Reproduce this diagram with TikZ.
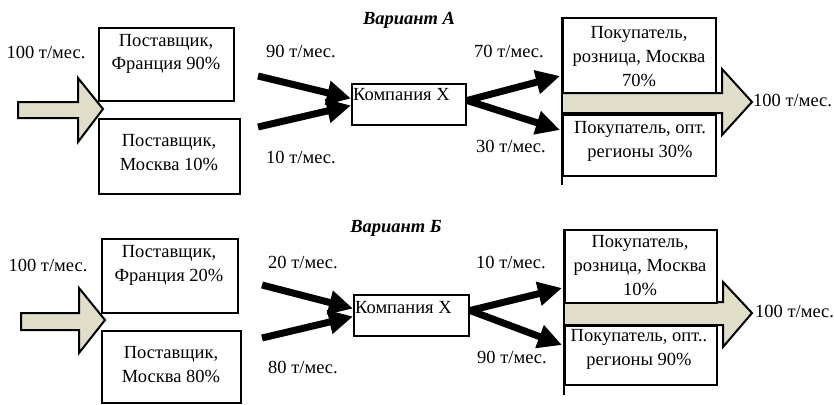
\documentclass[tikz,border=0pt]{standalone}
\usepackage{fontspec}
\setmainfont{Liberation Serif}
\usetikzlibrary{arrows.meta}
\definecolor{arrfill}{RGB}{224,222,200}
\begin{document}
\begin{tikzpicture}[x=1pt,y=-1pt,
  box/.style={draw=black, line width=2pt, fill=white, inner sep=0pt, anchor=north west},
  txt/.style={font=\fontsize{18.5}{24}\selectfont, align=center, inner sep=0pt, anchor=base},
  ttl/.style={font=\fontsize{18.5}{20}\selectfont\bfseries\itshape, inner sep=0pt, anchor=base},
  flow/.style={line width=7pt, -{Triangle[length=24pt,width=23pt]}},
  fat/.style={draw=black, line width=2pt, fill=arrfill, line join=miter}]
\useasboundingbox (0,0) rectangle (834,404);
\fill[white] (0,0) rectangle (834,404);

% ===== Variant A =====
\node[ttl] (tA) at (409,25) {Вариант А};
\filldraw[fat] (18,102) -- (78,102) -- (78,78) -- (103,109) -- (78,142) -- (78,118) -- (18,118) -- cycle;
\node[box, minimum width=135pt, minimum height=73pt] (s1A) at (98,27) {};
\node[box, minimum width=141pt, minimum height=75pt] (s2A) at (98,118) {};
\node[txt] (s1At) at (166,70) {Поставщик,\\Франция 90\%};
\node[txt] (s2At) at (169,170) {Поставщик,\\Москва 10\%};
\node[txt] (inA) at (46,59) {100 т/мес.};

\node[box, minimum width=114pt, minimum height=41pt] (kA) at (351,83) {};
\node[txt, anchor=base west] (kAt) at (353,100) {Компания X};
\coordinate (a1) at (258,76);
\coordinate (a2) at (258,127);
\draw[flow] (a1) -- ([yshift=6pt]kA.west);
\draw[flow] (a2) -- ([yshift=-1pt]kA.west);
\node[txt] (l90) at (301,57) {90 т/мес.};
\node[txt] (l10) at (301,163) {10 т/мес.};

\filldraw[fat] (562,93) -- (722,93) -- (722,69) -- (752,102) -- (722,135) -- (722,113) -- (562,113);
\node[box, minimum width=153pt, minimum height=75pt] (p1A) at (562,17) {};
\node[box, minimum width=153pt, minimum height=61pt] (p2A) at (562,114) {};
\coordinate (vA) at (562,185);
\draw[line width=2pt] (p1A.north west) -- (vA);
\node[txt] (p1At) at (639,86) {Покупатель,\\розница, Москва\\70\%};
\node[txt] (p2At) at (640,157) {Покупатель, опт.\\регионы 30\%};
\coordinate (t1) at (560,76);
\coordinate (t2) at (560,130);
\draw[flow] ([yshift=4pt]kA.east) -- (t1);
\draw[flow] ([yshift=4pt]kA.east) -- (t2);
\node[txt] (l70) at (509,57) {70 т/мес.};
\node[txt] (l30) at (511,152) {30 т/мес.};
\node[txt, anchor=base west] (outA) at (753,106) {100 т/мес.};

% ===== Variant B =====
\node[ttl] (tB) at (396,232) {Вариант Б};
\filldraw[fat] (21,313) -- (79,313) -- (79,288) -- (105,320) -- (79,353) -- (79,330) -- (21,330) -- cycle;
\node[box, minimum width=136pt, minimum height=74pt] (s1B) at (101,238) {};
\node[box, minimum width=139pt, minimum height=72pt] (s2B) at (101,330) {};
\node[txt] (s1Bt) at (169,281) {Поставщик,\\Франция 20\%};
\node[txt] (s2Bt) at (171,382) {Поставщик,\\Москва 80\%};
\node[txt] (inB) at (48,271) {100 т/мес.};

\node[box, minimum width=115pt, minimum height=41pt] (kB) at (353,294) {};
\node[txt, anchor=base west] (kBt) at (355,313) {Компания X};
\coordinate (b1) at (262,285);
\coordinate (b2) at (262,338);
\draw[flow] (b1) -- ([yshift=7pt]kB.west);
\draw[flow] (b2) -- ([yshift=-1pt]kB.west);
\node[txt] (l20) at (303,268) {20 т/мес.};
\node[txt] (l80) at (303,373) {80 т/мес.};

\filldraw[fat] (564,302) -- (723,302) -- (723,282) -- (752,313) -- (723,347) -- (723,325) -- (564,325);
\node[box, minimum width=152pt, minimum height=73pt] (p1B) at (564,229) {};
\node[box, minimum width=152pt, minimum height=59pt] (p2B) at (564,325) {};
\coordinate (vB) at (564,395);
\draw[line width=2pt] (p1B.north west) -- (vB);
\node[txt] (p1Bt) at (640,295) {Покупатель,\\розница, Москва\\10\%};
\node[txt] (p2Bt) at (639,365) {Покупатель, опт..\\регионы 90\%};
\coordinate (u1) at (562,288);
\coordinate (u2) at (562,345);
\draw[flow] ([yshift=5pt]kB.east) -- (u1);
\draw[flow] ([yshift=5pt]kB.east) -- (u2);
\node[txt] (l10b) at (511,268) {10 т/мес.};
\node[txt] (l90b) at (512,363) {90 т/мес.};
\node[txt, anchor=base west] (outB) at (755,317) {100 т/мес.};
\end{tikzpicture}
\end{document}
